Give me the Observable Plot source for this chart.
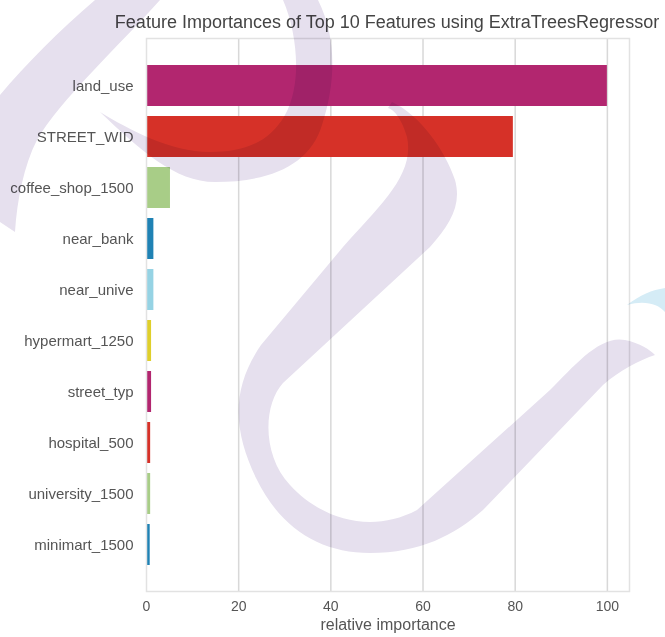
<!DOCTYPE html>
<html>
<head>
<meta charset="utf-8">
<script src="https://cdn.jsdelivr.net/npm/d3@7"></script>
<script src="https://cdn.jsdelivr.net/npm/@observablehq/plot@0.6"></script>
<style>
  html, body { margin: 0; padding: 0; background: #fff; }
  #wrap { position: relative; width: 665px; height: 637px; overflow: hidden; }
  #title {
    position: absolute; top: 13px; left: 387px; transform: translateX(-50%);
    white-space: nowrap; font: 18px/18px "Liberation Sans", Arial, sans-serif; color: #444;
  }
  #chart { position: absolute; left: 0; top: 0; }
  #mark { position: absolute; left: 0; top: 0; pointer-events: none; mix-blend-mode: multiply; }
</style>
</head>
<body>
<div id="wrap">
  <div id="chart"></div>
  <div id="title">Feature Importances of Top 10 Features using ExtraTreesRegressor</div>
</div>
<script>
// Top 10 features ranked by relative importance (ExtraTreesRegressor)
const features = ["land_use", "STREET_WID", "coffee_shop_1500", "near_bank", "near_unive",
                  "hypermart_1250", "street_typ", "hospital_500", "university_1500", "minimart_1500"];
const importances = [100, 79.6, 5.2, 1.6, 1.6, 1.1, 1.1, 0.9, 0.9, 0.8];
const barColors = ["#b2266f", "#d63128", "#a8cd87", "#1f82b4", "#96d3e4",
                   "#dfcf2b", "#b2266f", "#d63128", "#a8cd87", "#1f82b4"];
const xTicks = [0, 20, 40, 60, 80, 100];
const xLabel = "relative importance";

const rows = features.map((f, i) => ({feature: f, value: importances[i], color: barColors[i]}));
const font = "'Liberation Sans', Arial, sans-serif";

const chart = Plot.plot({
  width: 665,
  height: 637,
  marginTop: 38,
  marginBottom: 46,
  marginLeft: 146,
  marginRight: 36,
  style: {fontFamily: font, background: "transparent", color: "#555"},
  x: {domain: [0, 104.8]},
  y: {domain: features, paddingInner: 0.2, paddingOuter: 0.49},
  color: {type: "identity"},
  marks: [
    Plot.gridX(xTicks.slice(1), {stroke: "#d8d8d8", strokeOpacity: 1, strokeWidth: 1.5}),
    Plot.barX(rows, {x: "value", y: "feature", fill: "color"}),
    Plot.frame({stroke: "#e2e2e2", strokeWidth: 1.5}),
    Plot.axisX({ticks: xTicks, tickSize: 0, tickPadding: 10, fontSize: 14, label: null, fill: "#555"}),
    Plot.axisY({tickSize: 0, tickPadding: 13, fontSize: 15, label: null, fill: "#555"}),
    Plot.text([xLabel], {frameAnchor: "bottom", dy: 38, fontSize: 16, fill: "#555"})
  ]
});
document.getElementById("chart").append(chart);

// Faint background emblem laid over the chart
const emblem = d3.select("#wrap").append("svg")
  .attr("id", "mark").attr("width", 665).attr("height", 637);
const lilac = "#e6e0ee";
// diagonal stroke at the top left
emblem.append("path").attr("fill", lilac)
  .attr("d", "M95,0 L160,0 C120,45 60,100 37,140 C24,165 17,200 15,232 L0,222 L0,95 C25,65 60,30 95,0 Z");
// hooked arc under the two long bars
emblem.append("path").attr("fill", lilac)
  .attr("d", "M100,112 C140,150 175,182 215,182 C270,182 310,165 322,125 C335,85 338,40 318,0 L283,0 C298,35 302,85 285,115 C268,145 240,152 210,152 C170,152 130,130 100,112 Z");
// large loop through the middle of the plot
emblem.append("path").attr("fill", lilac)
  .attr("d", "M392,102 C420,115 445,150 455,180 C462,205 450,225 430,247 L283,383 C263,405 262,455 290,485 C320,518 370,535 417,510 L550,390 C575,365 600,335 625,340 C640,343 650,350 655,355 C640,360 620,370 603,385 L483,510 C455,535 420,553 370,553 C320,553 280,528 256,478 C234,432 230,390 261,345 L343,247 C380,205 415,175 407,137 C402,120 395,110 388,108 Z");
// small pale-blue sweep at the right edge
emblem.append("path").attr("fill", "#d5ecf6")
  .attr("d", "M627,305 C640,295 652,290 665,288 L665,312 C658,304 645,300 627,305 Z");
</script>
</body>
</html>
